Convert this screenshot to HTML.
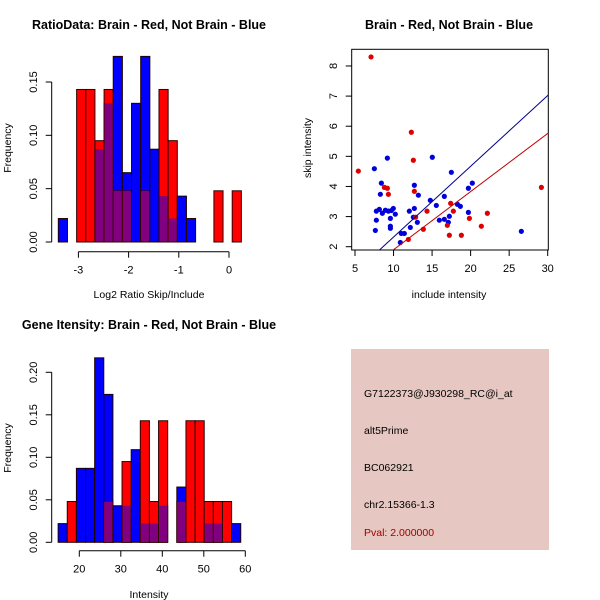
<!DOCTYPE html>
<html><head><meta charset="utf-8">
<style>
body{margin:0;background:#fff;}
svg{display:block;font-family:"Liberation Sans",sans-serif;}
</style></head>
<body>
<svg id="chart" width="600" height="600" viewBox="0 0 600 600">
<rect width="600" height="600" fill="#fff"/>
<g font-weight="bold" font-size="12.5" text-anchor="middle">
<text x="149" y="29">RatioData: Brain - Red, Not Brain - Blue</text>
<text x="449" y="29">Brain - Red, Not Brain - Blue</text>
<text x="149" y="329">Gene Itensity: Brain - Red, Not Brain - Blue</text>
</g>
<g font-size="10.5" text-anchor="middle">
<text x="149" y="298">Log2 Ratio Skip/Include</text>
<text x="449" y="298">include intensity</text>
<text x="149" y="598">Intensity</text>
<text transform="translate(11,148) rotate(-90)">Frequency</text>
<text transform="translate(311,148) rotate(-90)">skip intensity</text>
<text transform="translate(11,448) rotate(-90)">Frequency</text>
</g>
<g id="g1"></g>
<g id="g2"></g>
<g id="g3"></g>
<g>
<rect x="351" y="349" width="198" height="201" fill="#e6c7c1"/>
<g font-size="10.5" fill="#000">
<text x="364" y="397">G7122373@J930298_RC@i_at</text>
<text x="364" y="434">alt5Prime</text>
<text x="364" y="471">BC062921</text>
<text x="364" y="508">chr2.15366-1.3</text>
<text x="364" y="536" fill="#a00000">Pval: 2.000000</text>
</g></g>
</svg>
<script>
// Ratio histogram data (20 bins starting at -3.4, width 0.1823)
const ratioStart = -3.4, ratioWidth = 0.1823;
const ratioRed  = [0,0,0.143,0.143,0.095,0.143,0.048,0.048,0,0.048,0,0.143,0.095,0,0,0,0,0.048,0,0.048];
const ratioBlue = [0.022,0,0,0,0.087,0.13,0.174,0.065,0.13,0.174,0.087,0.043,0.022,0.043,0.022,0,0,0,0,0];
const ratioXTicks = [-3,-2,-1,0];
const ratioYTicks = ["0.00","0.05","0.10","0.15"];
// Intensity histogram data (20 bins starting at 14.9, width 2.2)
const intStart = 14.9, intWidth = 2.2;
const intRed  = [0,0.048,0,0,0,0.048,0,0.095,0,0.143,0.048,0.143,0,0.048,0.143,0.143,0.048,0.048,0.048,0];
const intBlue = [0.022,0,0.087,0.087,0.217,0.174,0.043,0.043,0.109,0.022,0.022,0.043,0,0.065,0,0,0.022,0.022,0,0.022];
const intXTicks = [20,30,40,50,60];
const intYTicks = ["0.00","0.05","0.10","0.15","0.20"];
// Scatter data
const redX = [7.08,5.43,12.31,12.57,8.81,9.20,9.33,12.70,14.34,13.87,12.87,11.92,17.41,17.76,16.98,17.24,18.80,19.84,21.39,22.17,29.18];
const redY = [8.30,4.51,5.80,4.87,3.97,3.94,3.74,3.84,3.18,2.58,2.98,2.24,3.44,3.18,2.71,2.38,2.38,2.94,2.68,3.11,3.97];
const blueX = [7.51,9.20,15.03,17.50,8.42,8.29,12.70,13.22,14.77,15.55,16.59,20.22,19.71,7.77,8.16,8.55,8.94,9.33,9.72,9.97,10.23,7.77,7.64,9.59,9.59,9.59,11.01,11.40,10.88,12.05,12.70,12.57,12.18,13.09,15.94,16.59,17.11,17.24,18.28,18.67,19.71,26.58];
const blueY = [4.59,4.94,4.97,4.47,4.11,3.74,4.04,3.71,3.54,3.37,3.67,4.11,3.94,3.18,3.24,3.11,3.21,3.18,3.20,3.27,3.08,2.88,2.54,2.94,2.68,2.61,2.44,2.44,2.14,3.18,3.27,2.98,2.64,2.81,2.88,2.91,2.81,3.01,3.41,3.34,3.14,2.51];
const fitBlue = [-0.03, 0.235]; // intercept, slope
const fitRed  = [-0.03, 0.193];
const scXTicks = [5,10,15,20,25,30];
const scYTicks = [2,3,4,5,6,7,8];

const NS = "http://www.w3.org/2000/svg";
function mk(parent, tag, attrs){const e=document.createElementNS(NS,tag);for(const k in attrs)e.setAttribute(k,attrs[k]);parent.appendChild(e);return e;}

function hist(g, start, width, red, blue, xTicks, yTicks, xs, ys, axY){
  for(let i=0;i<red.length;i++){
    const x0=xs(start+i*width), x1=xs(start+(i+1)*width);
    const b=blue[i], r=red[i], m=Math.min(b,r);
    if(b>0){const e=mk(g,'rect',{x:x0,y:ys(b),width:x1-x0,height:ys(0)-ys(b),fill:'#0000ff',stroke:'#200000','stroke-width':1});
      
      }
    if(r>0){const e=mk(g,'rect',{x:x0,y:ys(r),width:x1-x0,height:ys(0)-ys(r),fill:'#ff0000',stroke:'#300000','stroke-width':1});
      
      }
    if(m>0){const e=mk(g,'rect',{x:x0+0.5,y:ys(m),width:x1-x0-1,height:ys(0)-ys(m)-0.5,fill:'#800080'});
      
      }
  }
  // x axis
  const xa=mk(g,'g',{});
  
  
  mk(xa,'line',{x1:xs(xTicks[0]),x2:xs(xTicks[xTicks.length-1]),y1:axY,y2:axY,stroke:'#000'});
  xTicks.forEach(t=>{mk(xa,'line',{x1:xs(t),x2:xs(t),y1:axY,y2:axY+6,stroke:'#000'});
    const tx=mk(xa,'text',{x:xs(t),y:axY+22,'font-size':11,'text-anchor':'middle'});tx.textContent=t;});
  const ya=mk(g,'g',{});
  
  
  const yv=yTicks.map(Number);
  mk(ya,'line',{x1:51.7,x2:51.7,y1:ys(yv[0]),y2:ys(yv[yv.length-1]),stroke:'#000'});
  yTicks.forEach(t=>{const y=ys(Number(t));mk(ya,'line',{x1:45.7,x2:51.7,y1:y,y2:y,stroke:'#000'});
    const tx=mk(ya,'text',{transform:`translate(37,${y}) rotate(-90)`,'font-size':11,'text-anchor':'middle'});tx.textContent=t;});
}

// Ratio histogram
hist(document.getElementById('g1'), ratioStart, ratioWidth, ratioRed, ratioBlue, ratioXTicks, ratioYTicks,
  v=>229+(v)*50.2, v=>242-v*1066.7, 251.7);
// Intensity histogram
hist(document.getElementById('g3'), intStart, intWidth, intRed, intBlue, intXTicks, intYTicks,
  v=>79.3+(v-20)*4.15, v=>542.3-v*850, 550.7);

// Scatter
(function(){
  const g=document.getElementById('g2');
  const xs=v=>355+(v-5)*7.708, ys=v=>246.7-(v-2)*30.12;
  const L=351.7,R=548.3,T=49.3,B=250;
  mk(g,'rect',{x:L,y:T,width:R-L,height:B-T,fill:'none',stroke:'#000'});
  const defs=mk(g,'defs',{});
  const cp=mk(defs,'clipPath',{id:'clipsc'});mk(cp,'rect',{x:L,y:T,width:R-L,height:B-T});
  const xa=mk(g,'g',{});
  
  
  scXTicks.forEach(t=>{mk(xa,'line',{x1:xs(t),x2:xs(t),y1:B,y2:B+6,stroke:'#000'});
    const tx=mk(xa,'text',{x:xs(t),y:272,'font-size':11,'text-anchor':'middle'});tx.textContent=t;});
  const ya=mk(g,'g',{});
  
  
  scYTicks.forEach(t=>{mk(ya,'line',{x1:L-6,x2:L,y1:ys(t),y2:ys(t),stroke:'#000'});
    const tx=mk(ya,'text',{transform:`translate(337,${ys(t)}) rotate(-90)`,'font-size':11,'text-anchor':'middle'});tx.textContent=t;});
  const pts=mk(g,'g',{'clip-path':'url(#clipsc)'});
  blueX.forEach((x,i)=>{const c=mk(pts,'circle',{cx:xs(x),cy:ys(blueY[i]),r:2.6,fill:'#0000dd'});
    
    });
  redX.forEach((x,i)=>{const c=mk(pts,'circle',{cx:xs(x),cy:ys(redY[i]),r:2.6,fill:'#dd0000'});
    
    });
  const bl=mk(pts,'line',{x1:xs(0),y1:ys(fitBlue[0]),x2:xs(35),y2:ys(fitBlue[0]+fitBlue[1]*35),stroke:'#00008b','stroke-width':1});
  
  
  const rl=mk(pts,'line',{x1:xs(0),y1:ys(fitRed[0]),x2:xs(35),y2:ys(fitRed[0]+fitRed[1]*35),stroke:'#c00000','stroke-width':1});
  
  
})();
</script>
</body></html>
